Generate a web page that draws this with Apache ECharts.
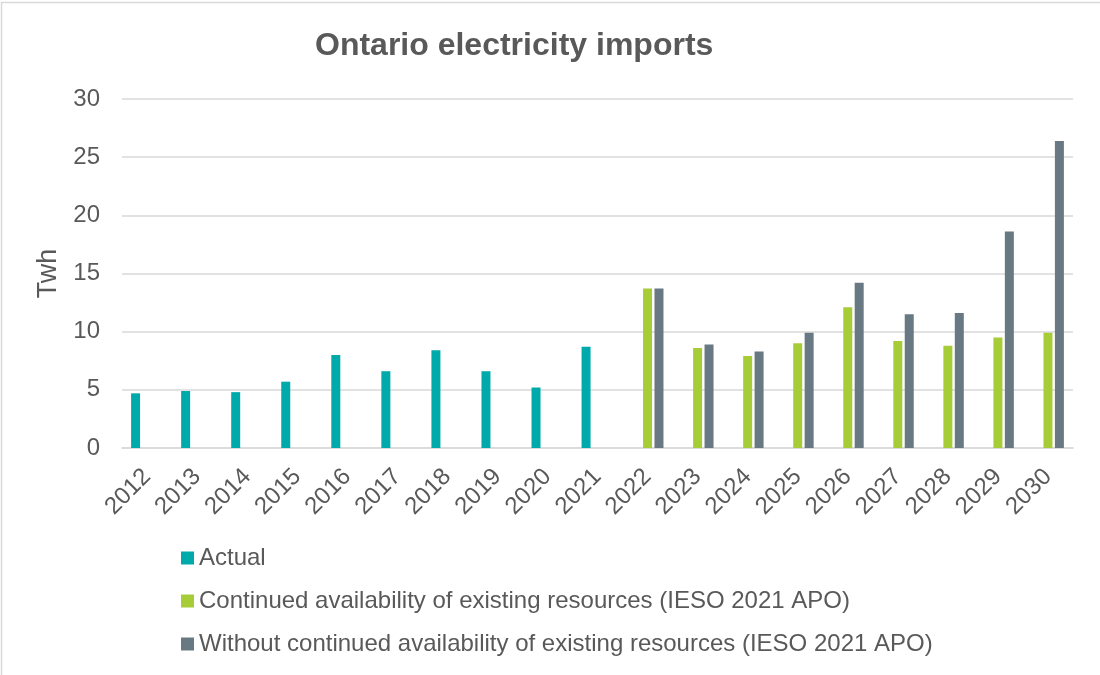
<!DOCTYPE html>
<html>
<head>
<meta charset="utf-8">
<script src="https://cdn.jsdelivr.net/npm/echarts@6/dist/echarts.min.js"></script>
<style>html,body{margin:0;padding:0;background:#fff}#c{width:1100px;height:675px}</style>
</head>
<body>
<div id="c"></div>
<script>
const years = ['2012','2013','2014','2015','2016','2017','2018','2019','2020','2021','2022','2023','2024','2025','2026','2027','2028','2029','2030'];
const actual = [4.7,4.9,4.8,5.7,8.0,6.6,8.4,6.6,5.2,8.7,null,null,null,null,null,null,null,null,null];
const continued = [null,null,null,null,null,null,null,null,null,null,13.7,8.6,7.9,9.0,12.1,9.2,8.8,9.5,9.9];
const without = [null,null,null,null,null,null,null,null,null,null,13.7,8.9,8.3,9.9,14.2,11.5,11.6,18.6,26.4];
const seriesNames = ['Actual','Continued availability of existing resources (IESO 2021 APO)','Without continued availability of existing resources (IESO 2021 APO)'];
const yTicks = {min:0,max:30,interval:5};

const font = 'Liberation Sans, Arial, sans-serif';
const txt = '#595959';
const chart = echarts.init(document.getElementById('c'));
chart.setOption({
  animation:false,
  backgroundColor:'#fff',
  color:['#00A9AA','#A6CC38','#697983'],
  graphic:[{type:'rect',shape:{x:1.5,y:2.5,width:1300,height:900},style:{fill:'none',stroke:'#d9d9d9',lineWidth:1.5},silent:true}],
  title:{text:'Ontario electricity imports',left:310,top:25,textStyle:{fontFamily:font,fontSize:32,fontWeight:'bold',color:txt}},
  grid:{left:122,right:27,top:99,bottom:227,containLabel:false},
  legend:{orient:'vertical',left:181,top:546,padding:0,itemWidth:13,itemHeight:13,itemGap:19,icon:'rect',
    textStyle:{fontFamily:font,fontSize:24,color:txt},data:seriesNames},
  xAxis:{type:'category',data:years,
    axisLine:{lineStyle:{color:'#d9d9d9',width:1.5}},axisTick:{show:false},
    axisLabel:{rotate:45,fontFamily:font,fontSize:24,color:txt,margin:25,interval:0}},
  yAxis:{type:'value',min:yTicks.min,max:yTicks.max,interval:yTicks.interval,name:'Twh',nameLocation:'middle',nameRotate:90,nameGap:57,
    nameTextStyle:{fontFamily:font,fontSize:27,color:txt},
    axisLine:{show:false},axisTick:{show:false},
    axisLabel:{fontFamily:font,fontSize:24,color:txt,margin:22},
    splitLine:{lineStyle:{color:'#d9d9d9',width:1.5}}},
  series:[
    {name:seriesNames[0],type:'bar',data:actual,barWidth:9,barGap:'27%'},
    {name:seriesNames[1],type:'bar',data:continued,barWidth:9,barGap:'27%'},
    {name:seriesNames[2],type:'bar',data:without,barWidth:9,barGap:'27%'}
  ]
});
</script>
</body>
</html>
